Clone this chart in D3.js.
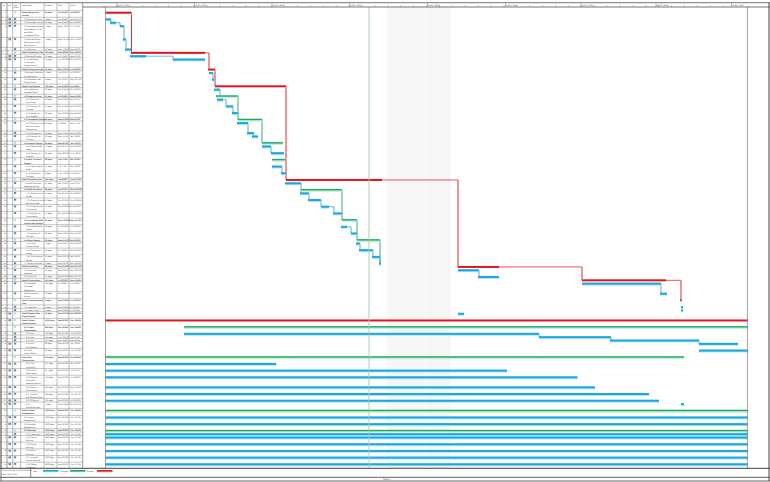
<!DOCTYPE html>
<html><head><meta charset="utf-8">
<script src="https://cdn.jsdelivr.net/npm/d3@7"></script>
<style>html,body{margin:0;padding:0;background:#fff}svg{display:block;text-rendering:geometricPrecision}text{font-family:"Liberation Sans",Arial,sans-serif;fill:#3c3c3c}</style>
</head><body><svg id="c" width="770" height="482"></svg>
<script>
// ---- data (time unit = project day estimate) ----
const rowLines=[2,1,1,4,3,1,1,1,3,1,2,2,1,2,1,2,2,2,1,3,1,2,1,2,2,2,2,2,1,2,1,2,2,2,2,2,2,2,1,2,2,2,1,1,2,1,1,3,2,2,1,1,2,2,2,1,1,1,2,2,2,2,2,3,2,2,1,2,2,2,2,1,1,2,2,2,2,2];
const barKind="CBBBBBCBBCBBCBGBBBGBBBGBBGBBCBGBBBBGBBGBBBBCBBCBBMBBBCGBBBBBGBBBBBBBGBBGBBBBBB".split("");
const barStart=[1,1,10,30,36,40,52,50,136,206,208,214,220,218,222,224,242,254,266,264,284,294,314,314,332,334,334,352,362,360,392,390,406,432,456,474,472,492,504,502,508,534,548,706,706,746,954,954,1110,1152,1152,1152,706,0,158,158,868,1010,1188,1188,0,0,0,0,0,0,0,1152,0,0,0,0,0,0,0,0,0,0];
const barEnd=[53,12,22,38,42,52,200,82,200,220,216,219,362,230,266,236,256,266,314,286,298,306,356,332,358,360,354,362,554,392,474,408,432,448,474,504,484,504,550,510,536,550,552,788,748,788,1122,1112,1124,1153,1156,1156,718,1286,1286,868,1012,1188,1266,1286,1158,342,804,945,980,1088,1108,1158,1286,1286,1286,1286,1286,1286,1286,1286,1286,1286];
const thinRows=[2,6,7,15,28,33,36,43,46];
const thinEnd=[30,208,136,242,706,458,492,954,1152];
const linkFrom=[0,6,9,12,28,43,46,1,2,3,4,7,10,13,15,16,19,20,23,26,29,31,32,33,36,39,40,41,44,47,55,56,57,14,18,30,35,38];
const linkTo=[6,9,12,28,43,46,49,2,3,4,5,8,11,14,16,17,20,21,24,27,31,32,33,34,37,40,41,42,45,48,56,57,58,18,22,35,38,42];
const taskNames=["Detail Design and|Review","3.1 Concept Review","3.2 Schematic Review","3.3 Schematic Design|Specifications (35%)|and ROM|Preparation/Cost","3.4 Special Design|Components Work|and Reviews","3.5 Milestone","Detail Preliminary Des","3.6 Design Criteria","3.7 Final Design|Review and|Design Review","Detail Design and App","3.8 Design Submittal|to Local Agent","3.9 Submittal Final|Owner Check","Detail Final Design","4.1 Final Design|Package (60%)","4.2 Superstructure","4.2.1 Concrete|Level Floor","4.2.2 Design the|Strength","4.2.3 Design the|Serviceability","4.3 Foundation Design","4.3.1 Concrete Level|and Floor Plate|Components","4.3.2 Design Rev","4.3.3 Design the|Strength","4.4 Exterior Design","4.4.1 Glazed Wall|Panel","4.4.2 Design the|Strength","4.5 Roof Tie-Down|Design","4.5.1 Panel Layout|Detail","4.5.2 Design the|Strength","Detail Construct Doc","5.1 Final Structural|Drawings Design","5.2 Steel Structure","5.2.1 Column Level|Design","5.2.2 Concrete Level|and Floor Plate","5.2.3 Beam Design|the Strength","5.2.4 Design the|Serviceability","5.3 Foundation Wall|Anchor Bolt Design","5.3.1 Detail Layout|Design","5.3.2 Design the|Strength","5.4 Stairs Design","5.4.1 Steel|Stringer Detail","5.4.2 Connection|Design","5.4.3 Steel Lateral|Design","5.5 Design Approval","Detail Permitting","6.1 Structural|Drawings","6.2 Permit Set","Detail Construction","6.3 Submittal|Structural|Calculations","6.4 Construction|Review","Detail Commissioning|Plan","7.1 Inspection","7.2 Final As-Built","Detail Support Site|Coord Review","Detail Project|Administration","8.1 Project|Coordination","8.1.1 RFI","8.1.2 RFI","8.1.3 RFI","8.1.4 RFI|Coordination","8.2 Field|Report Check","Detail Site|Construction","8.2.1 Site|Inspection","8.2.2 Field|Observation","8.2.3 Owner's|Structural|Drawings and Dr","8.2.4 Owner's|Consultation","8.2.5 Review|and Change Order","8.2.6 Closeout","8.2.7|Completion Doc","Detail Project|Management","9.1 Invoice|Management","9.2 Schedule|Management","9.3 Meetings","9.3.1 Team Meet","9.3.2 Owner|Meeting","9.3.3 Owner|Meeting","9.3.4 Client|Meeting","9.3.5 Internal|Review Meeting","9.3.6 Safety|Inspection"];
const indicatorRows=[1,2,3,4,7,8,52,53,58,59,61,62,63,64,65,66,67,69,70,73,74,75,76,77];
const majorDays=[23,178,333,488,644,800,951,1101,1252];
const majorLabels=["Half 2, 2020","Half 1, 2021","Half 2, 2021","Half 1, 2022","Half 2, 2022","Half 1, 2023","Half 2, 2023","Half 1, 2024","Half 2, 2024"];
const todayDay=528;
const shutdownStart=564, shutdownEnd=691;
const legendNames=["Task","Summary","Critical"];
const legendColors=["#1ca6de","#1aa961","#e2141f"];

// ---- layout ----
const svg=d3.select("#c");
const x=d3.scaleLinear().domain([0,1286]).range([105,748]);
const totalLines=d3.sum(rowLines);
const y=d3.scaleLinear().domain([0,totalLines]).range([10.6,468.9]);
const cum=d3.cumsum([0].concat(rowLines));
const rowTop=i=>y(cum[i]), rowCtr=i=>y(cum[i])+2.1;
const colX=[1,7,12.7,20.7,44,57,69,82.7];
const epoch=new Date(2020,5,3), fmt=d3.timeFormat("%a %-m/%-d/%y");
const dateOf=d=>new Date(+epoch+d*1.177*864e5);
const isSum=k=>k==="C"||k==="G";
const fill={C:"#e2141f",G:"#1aa961",B:"#1ca6de",M:"#35424a"};
const halo={C:"#ffffff",G:"#c9f1db",B:"#b4e8fb",M:"#ffffff"};
const thinCol={C:"#e9555e",G:"#6fcb9b",B:"#6db9d8"};
const grid=svg.append("g").attr("stroke-width",.5);

// non-working band
const bandG=svg.append("g");
bandG.append("rect").attr("x",x(shutdownStart)).attr("y",7).attr("width",x(shutdownEnd)-x(shutdownStart)).attr("height",461).attr("fill","#f6f6f6");
bandG.append("rect").attr("x",x(640)).attr("y",7).attr("width",.8).attr("height",461).attr("fill","#ffffff");

// connectors
const linkG=svg.append("g").attr("fill","none").attr("stroke-width",.9);
linkFrom.forEach((f,i)=>{
  const t=linkTo[i];
  const ti=thinRows.indexOf(f);
  const e=x(ti>=0?thinEnd[ti]:barEnd[f]);
  const k=barKind[f];
  const col=k==="C"?"#d81620":(k==="G"?"#2a9d68":"#4aa3c8");
  linkG.append("path").attr("stroke",col)
    .attr("d",d3.line()([[e,rowCtr(f)],[e,rowCtr(t)],[x(barStart[t]),rowCtr(t)]]));
});

// thin tails
svg.append("g").selectAll("line").data(thinRows).join("line")
  .attr("x1",r=>x(barEnd[r])).attr("x2",(r,i)=>x(thinEnd[i]))
  .attr("y1",rowCtr).attr("y2",rowCtr)
  .attr("stroke",r=>thinCol[barKind[r]]).attr("stroke-width",1);

// bars
const rows=d3.range(rowLines.length);
const drawable=rows.filter(r=>barKind[r]!=="M");
svg.append("g").selectAll("rect").data(drawable).join("rect")
  .attr("x",r=>x(barStart[r])).attr("width",r=>x(barEnd[r])-x(barStart[r]))
  .attr("y",r=>rowCtr(r)-1).attr("height",3).attr("fill",r=>halo[barKind[r]]);
svg.append("g").selectAll("rect").data(drawable).join("rect")
  .attr("x",r=>x(barStart[r])).attr("width",r=>x(barEnd[r])-x(barStart[r]))
  .attr("y",r=>rowCtr(r)-1).attr("height",r=>barKind[r]==="C"?2:(barKind[r]==="G"?1.4:2)).attr("fill",r=>fill[barKind[r]]);
svg.append("g").selectAll("rect").data(rows.filter(r=>barKind[r]==="M")).join("rect")
  .attr("x",r=>x(barStart[r])-.8).attr("y",r=>rowCtr(r)-.8).attr("width",1.6).attr("height",1.6).attr("fill",fill.M);

// today line and chart edges
svg.append("line").attr("x1",x(todayDay)).attr("x2",x(todayDay)).attr("y1",7).attr("y2",468).attr("stroke","#a6c9a8").attr("stroke-width",.9);
[[105.5,7,105.5,468],[747.4,7,747.4,468]].forEach(l=>svg.append("line").attr("x1",l[0]).attr("y1",l[1]).attr("x2",l[2]).attr("y2",l[3]).attr("stroke","#8a8a8a").attr("stroke-width",.8));

// timescale through axes
const minor=d3.axisTop(x).tickValues(d3.range(0,51).map(i=>-3+i*25.8)).tickSize(1.6).tickFormat("");
const axG=svg.append("g").attr("transform","translate(0,7)").call(minor);
axG.select(".domain").remove(); axG.selectAll("line").attr("stroke","#777").attr("stroke-width",.5);
const major=d3.axisTop(x).tickValues(majorDays).tickSize(3.6).tickPadding(-2.7).tickFormat((d,i)=>majorLabels[i]);
const axM=svg.append("g").attr("transform","translate(0,7)").call(major);
axM.select(".domain").remove(); axM.selectAll("line").attr("stroke","#666").attr("stroke-width",.5);
axM.selectAll("text").attr("font-size",2.1).attr("text-anchor","start").attr("dx",.6).style("font-family","'Liberation Sans'").style("fill","#444");

// table grid
rows.forEach(i=>grid.append("line").attr("x1",1).attr("x2",82.7).attr("y1",rowTop(i)).attr("y2",rowTop(i)).attr("stroke","#8d8d8d"));
colX.forEach(c=>grid.append("line").attr("x1",c).attr("x2",c).attr("y1",2.7).attr("y2",468).attr("stroke",(c===1||c===7||c===82.7)?"#555":"#8d8d8d").attr("stroke-width",.6));

// header
const hdr=[["ID",3],["Ind",8],["Task",13.5],["Task Name",22],["Duration",45],["Start",58],["Finish",70]];
hdr.forEach(h=>svg.append("text").attr("x",h[1]).attr("y",5.6).attr("font-size",2).text(h[0]));
svg.append("text").attr("x",13.5).attr("y",8.4).attr("font-size",2).text("Mode");

// rows text
const txt=svg.append("g").attr("font-size",2);
rows.forEach(i=>{
  const top=rowTop(i), sum=isSum(barKind[i])||/^Detail/.test(taskNames[i]);
  const w=sum?"bold":"normal";
  const lv=/^Detail/.test(taskNames[i])?0:(taskNames[i].match(/^\d+\.\d+\.\d+/)?2:1);
  txt.append("text").attr("x",6).attr("y",top+2.6).attr("text-anchor","end").text(i+1);
  taskNames[i].split("|").forEach((s,j)=>txt.append("text").attr("x",22+lv*2).attr("y",top+2.6+j*3.2).attr("font-weight",w).text(s));
  txt.append("text").attr("x",45).attr("y",top+2.6).attr("font-weight",w).text(Math.max(1,Math.round((barEnd[i]-barStart[i])*.84))+" days");
  txt.append("text").attr("x",58).attr("y",top+2.6).attr("font-weight",w).text(fmt(dateOf(barStart[i])));
  txt.append("text").attr("x",70).attr("y",top+2.6).attr("font-weight",w).text(fmt(dateOf(barEnd[i])));
  svg.append("rect").attr("x",14).attr("y",top+.8).attr("width",2.2).attr("height",1.9).attr("fill",sum?"#a9dcdc":"#5f8cab");
});
indicatorRows.forEach(i=>svg.append("rect").attr("x",8.4).attr("y",rowTop(i)+.8).attr("width",2.8).attr("height",2.1).attr("fill","#8a8f93"));

// frame
[[0,2.7,770,2.7,.9,"#666"],[82.7,7,770,7,.9,"#666"],[0,468.3,770,468.3,1,"#444"],[0,477.3,770,477.3,.9,"#555"],[0,481,770,481,.9,"#555"],[1,2.7,1,481,.8,"#555"],[769,2.7,769,481,1,"#444"],[30.7,468.3,30.7,477.3,.7,"#555"]]
 .forEach(l=>svg.append("line").attr("x1",l[0]).attr("y1",l[1]).attr("x2",l[2]).attr("y2",l[3]).attr("stroke-width",l[4]).attr("stroke",l[5]));

// legend
svg.append("text").attr("x",2).attr("y",471).attr("font-size",2).text("Project: Design & Build Schedule");
svg.append("text").attr("x",2).attr("y",474.5).attr("font-size",2).text("Date: Mon 3/1/21");
const lgX=d3.scalePoint().domain(legendNames).range([33,87]);
legendNames.forEach((n,i)=>{
  svg.append("text").attr("x",lgX(n)).attr("y",471.8).attr("font-size",2).text(n);
  svg.append("rect").attr("x",lgX(n)+10).attr("y",470).attr("width",15.5).attr("height",1.8).attr("fill",legendColors[i]);
  svg.append("rect").attr("x",lgX(n)+10).attr("y",471.8).attr("width",15.5).attr("height",.6).attr("fill",[halo.B,halo.G,"#f6b9bc"][i]);
});
svg.append("text").attr("x",383).attr("y",480).attr("font-size",2.4).text("Page 1");
</script></body></html>
